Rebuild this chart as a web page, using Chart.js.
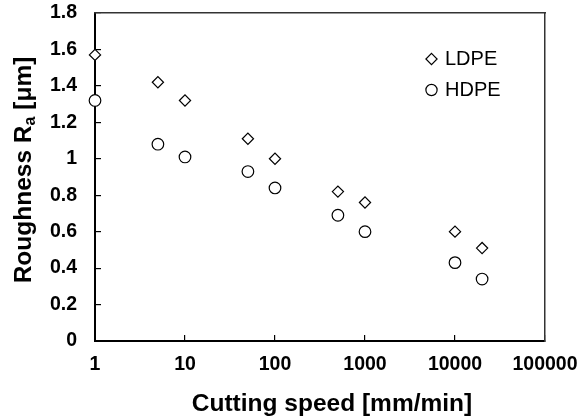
<!DOCTYPE html>
<html>
<head>
<meta charset="utf-8">
<script src="https://cdn.jsdelivr.net/npm/chart.js@4"></script>
<style>
  html, body { margin: 0; padding: 0; background: #fff; }
  #wrap { width: 578px; height: 418px; position: relative; }
</style>
</head>
<body>
<div id="wrap"><canvas id="graph1"></canvas></div>
<script>
// cutting speed [mm/min]
var speeds = [1, 5, 10, 50, 100, 500, 1000, 10000, 20000];
// roughness Ra [um]
var ldpeRa = [1.57, 1.42, 1.32, 1.11, 1.00, 0.82, 0.76, 0.60, 0.51];
var hdpeRa = [1.32, 1.08, 1.01, 0.93, 0.84, 0.69, 0.60, 0.43, 0.34];
var xTicks = [1, 10, 100, 1000, 10000, 100000];
var seriesNames = ['LDPE', 'HDPE'];

var FONT = 'Arial, "Liberation Sans", sans-serif';

function toPoints(xs, ys) {
  return xs.map(function (x, i) { return { x: x, y: ys[i] }; });
}

// axis titles and legend
const decorPlugin = {
  id: 'decor',
  afterDraw: function (chart) {
    var ctx = chart.ctx;
    ctx.save();
    ctx.fillStyle = '#000';

    // x title
    ctx.font = 'bold 24.5px ' + FONT;
    ctx.textAlign = 'center';
    ctx.textBaseline = 'alphabetic';
    ctx.fillText('Cutting speed [mm/min]', 332, 411);

    // y title with subscript
    var big = 'bold 24.5px ' + FONT, small = 'bold 16px ' + FONT;
    var p1 = 'Roughness R', p2 = 'a', p3 = ' [\u03bcm]';
    ctx.font = big;
    var w1 = ctx.measureText(p1).width, w3 = ctx.measureText(p3).width;
    ctx.font = small;
    var w2 = ctx.measureText(p2).width;
    var total = w1 + w2 + w3;
    ctx.translate(31, 170);
    ctx.rotate(-Math.PI / 2);
    ctx.textAlign = 'left';
    var sx = -total / 2;
    ctx.font = big;
    ctx.fillText(p1, sx, 0);
    ctx.font = small;
    ctx.fillText(p2, sx + w1, 4);
    ctx.font = big;
    ctx.fillText(p3, sx + w1 + w2, 0);
    ctx.setTransform(1, 0, 0, 1, 0, 0);

    // legend
    ctx.font = '20px ' + FONT;
    ctx.textAlign = 'left';
    ctx.textBaseline = 'middle';
    ctx.strokeStyle = '#000';
    ctx.lineWidth = 1.2;
    var lx = 431.5, r = 5.6;
    // diamond
    var ly = 59;
    ctx.fillStyle = '#fff';
    ctx.beginPath();
    ctx.moveTo(lx, ly - r);
    ctx.lineTo(lx + r, ly);
    ctx.lineTo(lx, ly + r);
    ctx.lineTo(lx - r, ly);
    ctx.closePath();
    ctx.fill();
    ctx.stroke();
    ctx.fillStyle = '#000';
    ctx.fillText(seriesNames[0], 445, ly);
    // circle
    ly = 90;
    ctx.fillStyle = '#fff';
    ctx.beginPath();
    ctx.arc(lx, ly, r, 0, Math.PI * 2);
    ctx.fill();
    ctx.stroke();
    ctx.fillStyle = '#000';
    ctx.fillText(seriesNames[1], 445, ly);
    ctx.restore();
  }
};

const graphData = {
  datasets: [
    {
      label: seriesNames[0],
      data: toPoints(speeds, ldpeRa),
      pointStyle: 'rectRot',
      pointRadius: 5.6,
      backgroundColor: '#fff',
      borderColor: '#000',
      borderWidth: 1.2,
      clip: false
    },
    {
      label: seriesNames[1],
      data: toPoints(speeds, hdpeRa),
      pointStyle: 'circle',
      pointRadius: 5.8,
      backgroundColor: '#fff',
      borderColor: '#000',
      borderWidth: 1.2,
      clip: false
    }
  ]
};

// inward tick marks only, no grid lines
var tickGrid = {
  display: true,
  drawOnChartArea: false,
  drawTicks: true,
  tickLength: -6,
  color: '#000',
  lineWidth: 1.2
};

const config = {
  type: 'scatter',
  data: graphData,
  plugins: [decorPlugin],
  options: {
    responsive: true,
    maintainAspectRatio: false,
    animation: false,
    events: [],
    layout: { padding: { left: 0, top: 13, right: 33, bottom: 0 } },
    plugins: {
      legend: { display: false },
      tooltip: { enabled: false }
    },
    scales: {
      x: {
        type: 'logarithmic',
        min: 1,
        max: 100000,
        grid: tickGrid,
        border: { display: true, color: '#000', width: 2 },
        afterBuildTicks: function (scale) {
          scale.ticks = xTicks.map(function (v) { return { value: v }; });
        },
        afterFit: function (scale) {
          scale.height = 77;
          scale.paddingLeft = 0;
          scale.paddingRight = 0;
        },
        ticks: {
          autoSkip: false,
          maxRotation: 0,
          padding: 18,
          color: '#000',
          font: { family: FONT, size: 19.5, weight: 'bold' },
          callback: function (v) { return String(v); }
        }
      },
      y: {
        min: 0,
        max: 1.8,
        grid: tickGrid,
        border: { display: true, color: '#000', width: 2 },
        afterFit: function (scale) {
          scale.width = 95;
          scale.paddingTop = 0;
          scale.paddingBottom = 0;
        },
        ticks: {
          stepSize: 0.2,
          padding: 24,
          color: '#000',
          font: { family: FONT, size: 19.5, weight: 'bold' },
          callback: function (v) { return String(Number(v.toFixed(1))); }
        }
      },
      // top and right frame lines
      x2: {
        type: 'linear',
        position: 'top',
        min: 0,
        max: 1,
        grid: { display: false, drawTicks: false },
        ticks: { display: false },
        border: { display: true, color: '#333', width: 1.5 },
        afterFit: function (scale) {
          scale.height = 0;
          scale.paddingLeft = 0;
          scale.paddingRight = 0;
        }
      },
      y2: {
        type: 'linear',
        position: 'right',
        min: 0,
        max: 1,
        grid: { display: false, drawTicks: false },
        ticks: { display: false },
        border: { display: true, color: '#333', width: 1.5 },
        afterFit: function (scale) {
          scale.width = 0;
          scale.paddingTop = 0;
          scale.paddingBottom = 0;
        }
      }
    }
  }
};

var myChart = new Chart(document.getElementById('graph1'), config);
</script>
</body>
</html>
